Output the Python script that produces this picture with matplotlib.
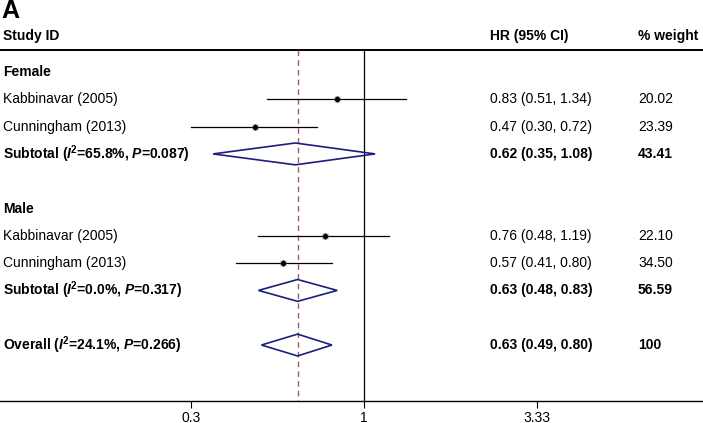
import matplotlib
matplotlib.use("Agg")
import matplotlib.pyplot as plt
import numpy as np
from matplotlib.patches import Polygon

plt.rcParams["font.family"] = ["Liberation Sans", "DejaVu Sans"]
plt.rcParams["mathtext.fontset"] = "custom"
plt.rcParams["mathtext.rm"] = "Liberation Sans"
plt.rcParams["mathtext.it"] = "Liberation Sans:italic"
plt.rcParams["mathtext.bf"] = "Liberation Sans:bold"
plt.rcParams["mathtext.bfit"] = "Liberation Sans:italic:bold"

# study rows
study_labels = ["Kabbinavar (2005)", "Cunningham (2013)", "Kabbinavar (2005)", "Cunningham (2013)"]
study_rows = [1, 2, 6, 7]
study_hr = [0.83, 0.47, 0.76, 0.57]
study_lo = [0.51, 0.30, 0.48, 0.41]
study_hi = [1.34, 0.72, 1.19, 0.80]
study_ci_text = ["0.83 (0.51, 1.34)", "0.47 (0.30, 0.72)", "0.76 (0.48, 1.19)", "0.57 (0.41, 0.80)"]
study_weight = [20.02, 23.39, 22.10, 34.50]

# pooled rows (diamonds)
pooled_labels = [r"Subtotal ($\mathbfit{I}^{\mathbf{2}}$=65.8%, $\mathbfit{P}$=0.087)",
                 r"Subtotal ($\mathbfit{I}^{\mathbf{2}}$=0.0%, $\mathbfit{P}$=0.317)",
                 r"Overall ($\mathbfit{I}^{\mathbf{2}}$=24.1%, $\mathbfit{P}$=0.266)"]
pooled_rows = [3, 8, 10]
pooled_hr = [0.62, 0.63, 0.63]
pooled_lo = [0.35, 0.48, 0.49]
pooled_hi = [1.08, 0.83, 0.80]
pooled_ci_text = ["0.62 (0.35, 1.08)", "0.63 (0.48, 0.83)", "0.63 (0.49, 0.80)"]
pooled_weight = ["43.41", "56.59", "100"]

group_labels = ["Female", "Male"]
group_rows = [0, 5]

overall_hr = 0.63
xticks = [0.3, 1, 3.33]
xticklabels = ["0.3", "1", "3.33"]

W, H = 703, 423
fig = plt.figure(figsize=(W / 100, H / 100), dpi=100)
ax = fig.add_axes([0, 22 / H, 1, 401 / H])

ax.set_xscale("log")
ax.set_xlim(10 ** (-364 / 331), 10 ** (339 / 331))
ax.set_ylim(12.05, -2.637)

for s in ["top", "left", "right"]:
    ax.spines[s].set_visible(False)
ax.spines["bottom"].set_linewidth(1.0)
ax.set_yticks([])
ax.set_xticks(xticks)
ax.set_xticklabels(xticklabels, fontsize=10)
ax.xaxis.set_minor_locator(matplotlib.ticker.NullLocator())
ax.tick_params(axis="x", direction="out", length=5, width=0.8, pad=2)

tr = ax.get_yaxis_transform()

# header line and reference lines
ax.axhline(-0.8, color="black", lw=1.4)
ax.vlines(1, -0.8, 12.05, color="black", lw=0.9)
ax.vlines(overall_hr, -0.8, 12.05, color="#a05a66", lw=1.0, linestyles=(0, (4, 3)))

# studies
for r, hr, lo, hi, w in zip(study_rows, study_hr, study_lo, study_hi, study_weight):
    ax.plot([lo, hi], [r, r], color="black", lw=0.9, zorder=3)
    ax.plot(hr, r, marker="s", ms=0.85 * np.sqrt(w), color="#b4b4b4", mec="none", zorder=4)
    ax.plot(hr, r, marker="D", ms=2.6, color="black", zorder=5)

# diamonds
for r, hr, lo, hi in zip(pooled_rows, pooled_hr, pooled_lo, pooled_hi):
    d = Polygon([[lo, r], [hr, r - 0.4], [hi, r], [hr, r + 0.4]], closed=True,
                fill=False, edgecolor="#1c1f7a", lw=1.2, zorder=4)
    ax.add_patch(d)

# text columns
x_lab, x_ci, x_w = 3 / W, 490 / W, 638 / W
fs = 10
ax.text(1 / W, -2.25, "A", transform=tr, fontsize=18, fontweight="bold", va="center")
ax.text(x_lab, -1.32, "Study ID", transform=tr, fontsize=fs, fontweight="bold", va="center")
ax.text(x_ci, -1.32, "HR (95% CI)", transform=tr, fontsize=fs, fontweight="bold", va="center")
ax.text(x_w, -1.32, "% weight", transform=tr, fontsize=fs, fontweight="bold", va="center")

for r, lab in zip(group_rows, group_labels):
    ax.text(x_lab, r, lab, transform=tr, fontsize=fs, fontweight="bold", va="center")

for r, lab, ci, w in zip(study_rows, study_labels, study_ci_text, study_weight):
    ax.text(x_lab, r, lab, transform=tr, fontsize=fs, va="center")
    ax.text(x_ci, r, ci, transform=tr, fontsize=fs, va="center")
    ax.text(x_w, r, f"{w:.2f}", transform=tr, fontsize=fs, va="center")

for r, lab, ci, w in zip(pooled_rows, pooled_labels, pooled_ci_text, pooled_weight):
    ax.text(x_lab, r, lab, transform=tr, fontsize=fs, fontweight="bold", va="center")
    ax.text(x_ci, r, ci, transform=tr, fontsize=fs, fontweight="bold", va="center")
    ax.text(x_w, r, w, transform=tr, fontsize=fs, fontweight="bold", va="center")

fig.savefig("out.png", dpi=100)
